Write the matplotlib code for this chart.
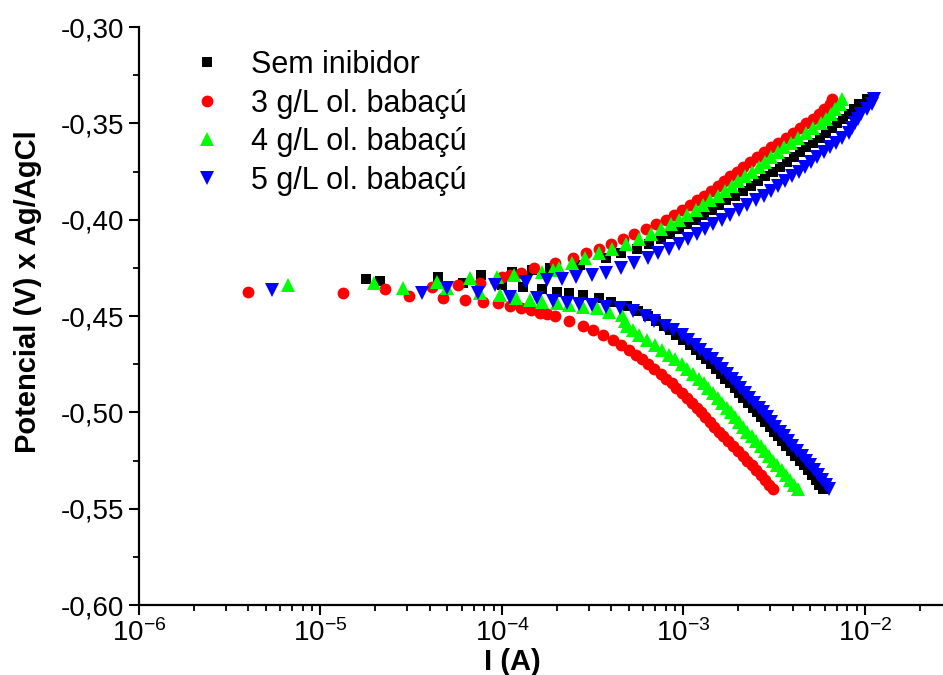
import numpy as np
import matplotlib
matplotlib.use("Agg")
import matplotlib.pyplot as plt
from matplotlib.ticker import FuncFormatter, LogLocator, MultipleLocator, NullFormatter

plt.rcParams["font.family"] = ["Liberation Sans", "DejaVu Sans"]
plt.rcParams["mathtext.fontset"] = "custom"
plt.rcParams["mathtext.rm"] = "Liberation Sans"
plt.rcParams["mathtext.it"] = "Liberation Sans:italic"
plt.rcParams["mathtext.bf"] = "Liberation Sans:bold"

labels = ["Sem inibidor", "3 g/L ol. babaçú", "4 g/L ol. babaçú", "5 g/L ol. babaçú"]
colors = ["#000000", "#ff0000", "#00ff00", "#0000ff"]
markers = ["s", "o", "^", "v"]
msizes = [7.6, 8.5, 9.5, 9.5]

# potential (V vs Ag/AgCl) and current (mA)
e_sem = [-0.540, -0.5375, -0.535, -0.5325, -0.530, -0.5275, -0.525, -0.5225, -0.520, -0.5175,
         -0.515, -0.5125, -0.510, -0.5075, -0.505, -0.5025, -0.500, -0.4975, -0.495, -0.4925,
         -0.490, -0.4875, -0.485, -0.4825, -0.480, -0.4775, -0.475, -0.4725, -0.470, -0.4675,
         -0.465, -0.4625, -0.460, -0.4575, -0.455, -0.4525, -0.450, -0.4475, -0.445,
         -0.4427, -0.4407, -0.4391, -0.4381, -0.4375, -0.4360, -0.4349, -0.4339, -0.4329, -0.4318,
         -0.4308, -0.4298, -0.4287, -0.4272, -0.4261, -0.4251, -0.4235,
         -0.420, -0.4175, -0.415, -0.4125, -0.410, -0.4075, -0.405, -0.4025, -0.400, -0.3975,
         -0.395, -0.3925, -0.390, -0.3875, -0.385, -0.3825, -0.380, -0.3775, -0.375, -0.3725,
         -0.370, -0.3675, -0.365, -0.3625, -0.360, -0.3575, -0.355, -0.3525, -0.350, -0.3475,
         -0.345, -0.3425, -0.340, -0.3375]
i_sem = [5.87, 5.61, 5.37, 5.10, 4.85, 4.61, 4.38, 4.14, 3.91, 3.69,
         3.49, 3.32, 3.15, 2.98, 2.81, 2.67, 2.54, 2.40, 2.27, 2.14,
         2.02, 1.91, 1.80, 1.70, 1.61, 1.51, 1.42, 1.33, 1.25, 1.17,
         1.09, 1.00, 0.915, 0.843, 0.776, 0.702, 0.634, 0.560, 0.491,
         0.400, 0.344, 0.278, 0.235, 0.200, 0.167, 0.130, 0.100, 0.061, 0.0213,
         0.0178, 0.0444, 0.0766, 0.113, 0.147, 0.183, 0.270,
         0.372, 0.450, 0.551, 0.645, 0.756, 0.847, 0.950, 1.05, 1.17, 1.30,
         1.44, 1.57, 1.71, 1.91, 2.13, 2.34, 2.57, 2.83, 3.11, 3.40,
         3.72, 4.04, 4.38, 4.76, 5.17, 5.62, 6.10, 6.54, 7.01, 7.56,
         8.16, 8.70, 9.27, 10.2]

e_3g = [-0.540, -0.5375, -0.535, -0.5325, -0.530, -0.5275, -0.525, -0.5225, -0.520, -0.5175,
        -0.515, -0.5125, -0.510, -0.5075, -0.505, -0.5025, -0.500, -0.4975, -0.495, -0.4925,
        -0.490, -0.4875, -0.485, -0.4825, -0.480, -0.4775, -0.475, -0.4725, -0.470, -0.4675,
        -0.465, -0.4625, -0.460, -0.4575, -0.455, -0.4525, -0.450,
        -0.4489, -0.4484, -0.4469, -0.4458, -0.4448, -0.4432, -0.4427, -0.4417, -0.4406, -0.4396,
        -0.4380, -0.4375,
        -0.4360, -0.4350, -0.4340, -0.4329, -0.4298, -0.4287, -0.4277,
        -0.425, -0.4225, -0.420, -0.4175, -0.415, -0.4125, -0.410, -0.4075, -0.405, -0.4025,
        -0.400, -0.3975, -0.395, -0.3925, -0.390, -0.3875, -0.385, -0.3825, -0.380, -0.3775,
        -0.375, -0.3725, -0.370, -0.3675, -0.365, -0.3625, -0.360, -0.3575, -0.355, -0.3525,
        -0.350, -0.3475, -0.345, -0.3425, -0.340, -0.3375]
i_3g = [3.11, 2.96, 2.81, 2.66, 2.51, 2.37, 2.24, 2.12, 2.00, 1.88,
        1.76, 1.66, 1.57, 1.48, 1.40, 1.32, 1.25, 1.18, 1.11, 1.04,
        0.975, 0.915, 0.859, 0.800, 0.747, 0.692, 0.641, 0.590, 0.544, 0.500,
        0.455, 0.410, 0.362, 0.317, 0.278, 0.235, 0.195,
        0.176, 0.161, 0.145, 0.128, 0.111, 0.095, 0.0786, 0.0625, 0.0473, 0.0307,
        0.0133, 0.0040,
        0.0227, 0.0411, 0.0572, 0.0756, 0.100, 0.110, 0.127,
        0.151, 0.195, 0.245, 0.290, 0.344, 0.400, 0.467, 0.537, 0.618, 0.706,
        0.806, 0.886, 0.975, 1.08, 1.19, 1.30, 1.42, 1.54, 1.67, 1.81,
        1.97, 2.14, 2.32, 2.54, 2.78, 3.04, 3.32, 3.65, 4.01, 4.36,
        4.73, 5.14, 5.58, 5.98, 6.41, 6.60]

e_4g = [-0.540, -0.5375, -0.535, -0.5325, -0.530, -0.5275, -0.525, -0.5225, -0.520, -0.5175,
        -0.515, -0.5125, -0.510, -0.5075, -0.505, -0.5025, -0.500, -0.4975, -0.495, -0.4925,
        -0.490, -0.4875, -0.485, -0.4825, -0.480, -0.4775, -0.475, -0.4725, -0.470, -0.4675,
        -0.465, -0.4625, -0.460, -0.4575, -0.455, -0.4525,
        -0.4495, -0.4479, -0.4458, -0.4453, -0.4443, -0.4432, -0.4427, -0.4417, -0.4407, -0.4391,
        -0.4381, -0.4355, -0.4355, -0.4339,
        -0.4329, -0.4323, -0.4303, -0.4297, -0.4287, -0.4272, -0.4261,
        -0.425, -0.4225, -0.420, -0.4175, -0.415, -0.4125, -0.410, -0.4075, -0.405, -0.4025,
        -0.400, -0.3975, -0.395, -0.3925, -0.390, -0.3875, -0.385, -0.3825, -0.380, -0.3775,
        -0.375, -0.3725, -0.370, -0.3675, -0.365, -0.3625, -0.360, -0.3575, -0.355, -0.3525,
        -0.350, -0.3475, -0.345, -0.3425, -0.340, -0.3375]
i_4g = [4.27, 4.06, 3.86, 3.67, 3.49, 3.29, 3.11, 2.96, 2.81, 2.66,
        2.51, 2.37, 2.24, 2.13, 2.02, 1.92, 1.83, 1.73, 1.63, 1.54,
        1.45, 1.37, 1.30, 1.21, 1.13, 1.05, 0.975, 0.898, 0.827, 0.761,
        0.701, 0.633, 0.572, 0.530, 0.491, 0.476,
        0.461, 0.391, 0.332, 0.278, 0.235, 0.200, 0.167, 0.142, 0.120, 0.0975,
        0.0756, 0.0498, 0.0285, 0.0066,
        0.0197, 0.0438, 0.0666, 0.094, 0.117, 0.167, 0.190,
        0.207, 0.244, 0.288, 0.342, 0.406, 0.482, 0.572, 0.658, 0.756, 0.848,
        0.950, 1.05, 1.17, 1.28, 1.40, 1.54, 1.69, 1.84, 2.00, 2.18,
        2.38, 2.59, 2.81, 3.05, 3.32, 3.60, 3.91, 4.30, 4.73, 5.20,
        5.72, 6.09, 6.49, 6.87, 7.28, 7.50]

e_5g = [-0.540, -0.5375, -0.535, -0.5325, -0.530, -0.5275, -0.525, -0.5225, -0.520, -0.5175,
        -0.515, -0.5125, -0.510, -0.5075, -0.505, -0.5025, -0.500, -0.4975, -0.495, -0.4925,
        -0.490, -0.4875, -0.485, -0.4825, -0.480, -0.4775, -0.475, -0.4725, -0.470, -0.4675,
        -0.465, -0.4625, -0.460, -0.4575, -0.455, -0.4525, -0.450,
        -0.4474, -0.4458, -0.4453, -0.4443, -0.4438, -0.4432, -0.4422, -0.4407, -0.4401, -0.4381,
        -0.4381, -0.4365,
        -0.4355, -0.4339, -0.4323, -0.4313, -0.4308, -0.4298, -0.4287, -0.4277,
        -0.425, -0.4225, -0.420, -0.4175, -0.415, -0.4125, -0.410, -0.4075, -0.405, -0.4025,
        -0.400, -0.3975, -0.395, -0.3925, -0.390, -0.3875, -0.385, -0.3825, -0.380, -0.3775,
        -0.375, -0.3725, -0.370, -0.3675, -0.365, -0.3625, -0.360, -0.3575, -0.355, -0.3525,
        -0.350, -0.3475, -0.345, -0.3425, -0.340, -0.3375]
i_5g = [6.34, 6.06, 5.80, 5.51, 5.24, 4.98, 4.73, 4.47, 4.22, 3.98,
        3.76, 3.58, 3.40, 3.21, 3.03, 2.88, 2.74, 2.59, 2.45, 2.31,
        2.18, 2.06, 1.95, 1.84, 1.74, 1.63, 1.53, 1.43, 1.33, 1.24,
        1.16, 1.06, 0.975, 0.875, 0.786, 0.690, 0.610,
        0.530, 0.444, 0.376, 0.315, 0.267, 0.227, 0.190, 0.155, 0.110, 0.0737,
        0.0362, 0.0054,
        0.0498, 0.0915, 0.136, 0.176, 0.215, 0.257, 0.315, 0.376,
        0.450, 0.534, 0.634, 0.728, 0.837, 0.942, 1.06, 1.18, 1.31, 1.46,
        1.63, 1.81, 2.02, 2.25, 2.51, 2.76, 3.03, 3.31, 3.62, 3.96,
        4.33, 4.67, 5.04, 5.47, 5.94, 6.41, 6.92, 7.51, 8.16, 8.48,
        8.81, 9.15, 9.50, 10.2, 10.9, 11.2]

series = [(e_sem, i_sem), (e_3g, i_3g), (e_4g, i_4g), (e_5g, i_5g)]

W, H = 943, 675
fig = plt.figure(figsize=(W / 100, H / 100), dpi=100)
ax = fig.add_axes([139 / W, 70 / H, 804 / W, 578 / H])

for (e, i), lab, c, m, ms in zip(series, labels, colors, markers, msizes):
    ax.plot(np.array(i) * 1e-3, e, linestyle="none", marker=m, ms=ms,
            color=c, markeredgewidth=0, label=lab)

ax.set_xscale("log")
ax.set_xlim(1e-6, 10 ** (-6 + 804 / 181.5))
ax.set_ylim(-0.60, -0.30)

for side in ["top", "right"]:
    ax.spines[side].set_visible(False)
for side in ["left", "bottom"]:
    ax.spines[side].set_linewidth(1.6)

ax.yaxis.set_major_locator(MultipleLocator(0.05))
ax.yaxis.set_minor_locator(MultipleLocator(0.025))
ax.yaxis.set_major_formatter(FuncFormatter(lambda v, p: f"{v:.2f}".replace(".", ",")))
ax.xaxis.set_major_locator(LogLocator(base=10, numticks=10))
ax.xaxis.set_minor_locator(LogLocator(base=10, subs=np.arange(2, 10), numticks=10))
ax.xaxis.set_minor_formatter(NullFormatter())
ax.xaxis.set_major_formatter(FuncFormatter(lambda v, p: r"10$^{%d}$" % round(np.log10(v))))

ax.tick_params(which="major", direction="out", length=7, width=1.5, labelsize=20)
ax.tick_params(which="minor", direction="out", length=4, width=1.3)

ax.set_xlabel("I (A)", fontsize=21, fontweight="bold")
ax.xaxis.set_label_coords(0.465, -0.074)
ax.set_ylabel("Potencial (V) x Ag/AgCl", fontsize=21, fontweight="bold")
ax.yaxis.set_label_coords(-0.121, 0.543)

ax.legend(loc="upper left", bbox_to_anchor=(176 / W, 1 - 50 / H), bbox_transform=fig.transFigure,
          frameon=False, fontsize=22, numpoints=1, handlelength=2.0, handletextpad=0.45,
          labelspacing=0.28, borderpad=0, borderaxespad=0)

fig.savefig("out.png", dpi=100)
